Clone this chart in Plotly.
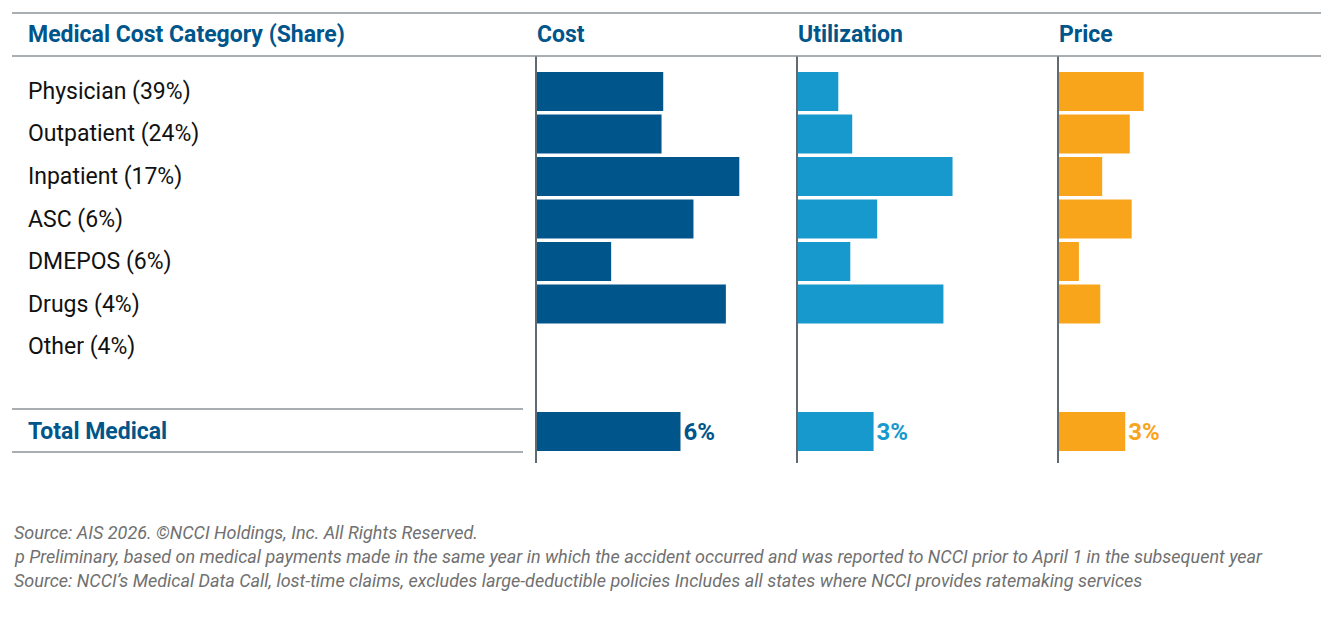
import plotly.graph_objects as go

# ---- data (% change) ----
categories = ["Physician (39%)", "Outpatient (24%)", "Inpatient (17%)", "ASC (6%)",
              "DMEPOS (6%)", "Drugs (4%)", "Other (4%)"]
total_label = "Total Medical"
cost = [5.28, 5.21, 8.45, 6.54, 3.11, 7.89, None]
utilization = [1.70, 2.28, 6.46, 3.32, 2.20, 6.08, None]
price = [3.55, 2.97, 1.82, 3.05, 0.85, 1.74, None]
total_cost, total_util, total_price = 6.0, 3.17, 2.78
total_text = ["6%", "3%", "3%"]
columns = ["Cost", "Utilization", "Price"]

footnotes = [
    "Source: AIS 2026. ©NCCI Holdings, Inc. All Rights Reserved.",
    "p Preliminary, based on medical payments made in the same year in which the accident occurred and was reported to NCCI prior to April 1 in the subsequent year",
    "Source: NCCI’s Medical Data Call, lost-time claims, excludes large-deductible policies Includes all states where NCCI provides ratemaking services",
]

# page body has an 8px margin, so work in window pixels and shift
OFF = 8
W, H = 1334 - 2 * OFF, 634 - 2 * OFF
def px(x):
    return (x - OFF) / W
def py(y):
    return 1 - (y - OFF) / H

BLUE = "#00558a"
LIGHT = "#1799cd"
ORANGE = "#f9a51b"
GRID = "#8c9399"
AXIS = "#5f6a73"
FONT = "Roboto"

blank = " "
ycats = categories + [blank, total_label]

fig = go.Figure()

series = [(cost, total_cost, BLUE), (utilization, total_util, LIGHT), (price, total_price, ORANGE)]
col_left = [536.5, 797.5, 1058.5]
scale = 24.0  # px per percentage point
xmax = 10

for n, (vals, tot, colr) in enumerate(series):
    xa = "x" if n == 0 else f"x{n+1}"
    fig.add_trace(go.Bar(
        x=vals + [None, tot], y=ycats, orientation="h",
        marker=dict(color=colr, line=dict(width=0)),
        width=0.92,
        text=[""] * (len(vals) + 1) + [total_text[n]],
        textposition="outside", constraintext="none", cliponaxis=False,
        textfont=dict(family=FONT, size=24, color=colr, weight="bold"),
        xaxis=xa, yaxis="y" if n == 0 else f"y{n+1}",
        hoverinfo="x+y", showlegend=False,
    ))

layout = dict(
    width=W, height=H, margin=dict(l=0, r=0, t=0, b=0),
    paper_bgcolor="white", plot_bgcolor="white",
    bargap=0.08,
    font=dict(family=FONT, size=20, color="#111111"),
)
ydom = [py(463), py(56)]
for n in range(3):
    sx = "" if n == 0 else str(n + 1)
    layout[f"xaxis{sx}"] = dict(
        domain=[px(col_left[n]), px(col_left[n] + xmax * scale)],
        range=[0, xmax], visible=False, anchor=f"y{sx}",
    )
    layout[f"yaxis{sx}"] = dict(
        domain=ydom, anchor=f"x{sx}", type="category",
        categoryorder="array", categoryarray=ycats,
        range=[8.74, -0.835], showticklabels=False, ticks="",
        showgrid=False, zeroline=False,
        showline=True, linecolor=AXIS, linewidth=1.5,
    )
fig.update_layout(**layout)

# table rules
def hline(y, x0, x1):
    return dict(type="line", xref="paper", yref="paper", x0=px(x0), x1=px(x1),
                y0=py(y), y1=py(y), line=dict(color=GRID, width=1.5))

fig.update_layout(shapes=[hline(13, 12, 1321), hline(56, 12, 1321),
                          hline(409, 12, 523), hline(452, 12, 523)])

ann = []
head_font = dict(family=FONT, size=23, color=BLUE, weight="bold")
ann.append(dict(text="Medical Cost Category (Share)", x=px(26), y=py(35), xref="paper", yref="paper",
                xanchor="left", yanchor="middle", showarrow=False, font=head_font))
for n, c in enumerate(columns):
    ann.append(dict(text=c, x=px(col_left[n] - 1.5), y=py(35), xref="paper", yref="paper",
                    xanchor="left", yanchor="middle", showarrow=False, font=head_font))
# row labels
for c in categories:
    ann.append(dict(text=c, x=px(26), y=c, xref="paper", yref="y",
                    xanchor="left", yanchor="middle", showarrow=False,
                    font=dict(family=FONT, size=23, color="#111111")))
ann.append(dict(text=total_label, x=px(26), y=total_label, xref="paper", yref="y",
                xanchor="left", yanchor="middle", showarrow=False, font=head_font))
# footnotes
for k, t in enumerate(footnotes):
    ann.append(dict(text=f"<i>{t}</i>", x=px(12), y=py(532 + 24 * k), xref="paper", yref="paper",
                    xanchor="left", yanchor="middle", showarrow=False,
                    font=dict(family=FONT, size=18, color="#707070")))
fig.update_layout(annotations=ann)

fig.write_html("out.html")
